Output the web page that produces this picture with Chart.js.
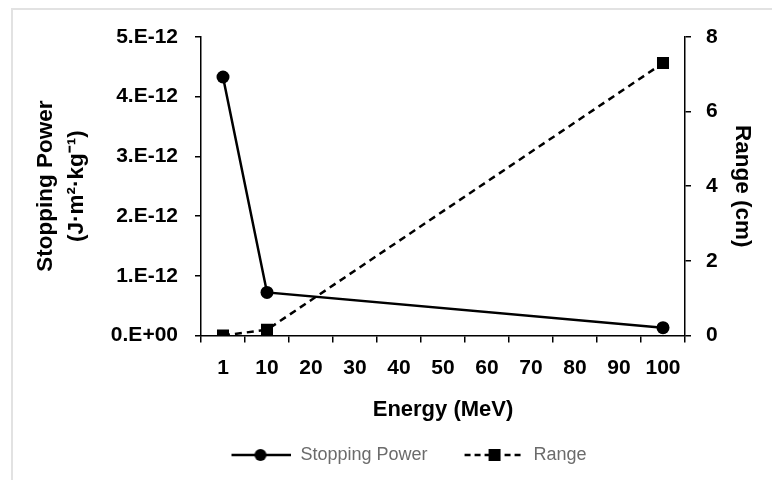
<!DOCTYPE html>
<html>
<head>
<meta charset="utf-8">
<script src="https://cdn.jsdelivr.net/npm/chart.js@4.4.1/dist/chart.umd.min.js"></script>
<style>
  html, body { margin: 0; padding: 0; background: #fff; }
  #wrap { position: relative; width: 772px; height: 480px; overflow: hidden; }
  /* outer chart frame, only top and left edges fall inside the page */
  #frame { position: absolute; left: 11px; top: 8px; width: 900px; height: 600px;
           border: 2px solid #e2e2e2; box-sizing: border-box; }
  #chart { position: absolute; left: 0; top: 0; }
</style>
</head>
<body>
<div id="wrap">
  <div id="frame"></div>
  <canvas id="chart" width="772" height="480"></canvas>
</div>
<script>
// energy categories (MeV)
const energyLabels = ['1', '10', '20', '30', '40', '50', '60', '70', '80', '90', '100'];
// stopping power, J·m²·kg⁻¹ (only 1, 10 and 100 MeV measured)
const stoppingPower = [4.33e-12, 0.72e-12, null, null, null, null, null, null, null, null, 0.13e-12];
// range, cm
const rangeCm = [0, 0.15, null, null, null, null, null, null, null, null, 7.3];

const leftTicks = { min: 0, max: 5e-12, step: 1e-12 };
const rightTicks = { min: 0, max: 8, step: 2 };

const FONT = "'Liberation Sans', Arial, sans-serif";

// Excel style "0.E+00" number format
function sciFormat(v) {
    if (Math.abs(v) < 1e-30) return '0.E+00';
    const e = Math.floor(Math.log10(Math.abs(v)) + 1e-6);
    const m = Math.round(v / Math.pow(10, e));
    const sign = e < 0 ? '-' : '+';
    return m + '.E' + sign + String(Math.abs(e)).padStart(2, '0');
}

// legend symbol: line segment with a marker in the middle
function legendSymbol(marker, dashed) {
    const c = document.createElement('canvas');
    const lead = 27, w = 60;
    c.width = lead + w;
    c.height = 16;
    const g = c.getContext('2d');
    g.strokeStyle = '#000';
    g.fillStyle = '#000';
    g.lineWidth = 2.5;
    if (dashed) g.setLineDash([6, 4]);
    g.beginPath();
    g.moveTo(lead, 8);
    g.lineTo(lead + w, 8);
    g.stroke();
    const cx = lead + w / 2;
    if (marker === 'circle') {
        g.beginPath();
        g.arc(cx - 1, 8, 6, 0, Math.PI * 2);
        g.fill();
    } else {
        g.fillRect(cx - 6, 2, 12, 12);
    }
    return c;
}

const symbols = [legendSymbol('circle', false), legendSymbol('square', true)];

const ctx = document.getElementById('chart').getContext('2d');
new Chart(ctx, {
    type: 'line',
    data: {
        labels: energyLabels,
        datasets: [
            {
                label: 'Stopping Power',
                data: stoppingPower,
                yAxisID: 'y',
                borderColor: '#000',
                backgroundColor: '#000',
                borderWidth: 2.5,
                pointStyle: 'circle',
                pointRadius: 6.5,
                pointBorderWidth: 0,
                spanGaps: true,
                tension: 0
            },
            {
                label: 'Range',
                data: rangeCm,
                yAxisID: 'y1',
                borderColor: '#000',
                backgroundColor: '#000',
                borderWidth: 2.5,
                borderDash: [7, 5],
                pointStyle: 'rect',
                pointRadius: 8.5,
                pointBorderWidth: 0,
                spanGaps: true,
                tension: 0
            }
        ]
    },
    options: {
        responsive: false,
        animation: false,
        layout: { padding: { left: 19, right: 0, top: 37, bottom: 6 } },
        plugins: {
            tooltip: { enabled: false },
            legend: {
                position: 'bottom',
                labels: {
                    usePointStyle: true,
                    pointStyleWidth: 87,
                    padding: 10,
                    color: '#6b6b6b',
                    font: { family: FONT, size: 18 },
                    generateLabels: (chart) => chart.data.datasets.map((ds, i) => ({
                        text: ds.label,
                        pointStyle: symbols[i],
                        fillStyle: '#000',
                        strokeStyle: '#000',
                        lineWidth: 0,
                        fontColor: '#6b6b6b',
                        datasetIndex: i
                    }))
                }
            }
        },
        scales: {
            x: {
                type: 'category',
                offset: true,
                border: { display: true, color: '#000', width: 1.5 },
                grid: { offset: true, drawOnChartArea: false, drawTicks: true, tickLength: 7, color: '#000', lineWidth: 1.5 },
                ticks: { color: '#000', padding: 13, maxRotation: 0, autoSkip: false,
                         font: { family: FONT, size: 21, weight: 'bold' } },
                title: { display: true, text: 'Energy (MeV)', color: '#000',
                         padding: { top: 3, bottom: 13 },
                         font: { family: FONT, size: 22, weight: 'bold' } }
            },
            y: {
                position: 'left',
                min: leftTicks.min,
                max: leftTicks.max,
                afterFit: (s) => { s.width = 182; },
                border: { display: true, color: '#000', width: 1.5 },
                grid: { drawOnChartArea: false, drawTicks: true, tickLength: 6, color: '#000', lineWidth: 1.5 },
                ticks: { stepSize: leftTicks.step, color: '#000', padding: 17,
                         callback: (v) => sciFormat(v),
                         font: { family: FONT, size: 21, weight: 'bold' } },
                title: { display: true, text: ['Stopping Power', '(J\u00b7m\u00b2\u00b7kg\u207b\u00b9)'], color: '#000',
                         padding: { top: 11, bottom: 0 },
                         font: { family: FONT, size: 22.5, weight: 'bold', lineHeight: '31px' } }
            },
            y1: {
                position: 'right',
                min: rightTicks.min,
                max: rightTicks.max,
                afterFit: (s) => { s.width = 87; },
                border: { display: true, color: '#000', width: 1.5 },
                grid: { drawOnChartArea: false, drawTicks: true, tickLength: 6, color: '#000', lineWidth: 1.5 },
                ticks: { stepSize: rightTicks.step, color: '#000', padding: 15,
                         font: { family: FONT, size: 21, weight: 'bold' } },
                title: { display: true, text: 'Range (cm)', color: '#000',
                         padding: { top: 16, bottom: 0 },
                         font: { family: FONT, size: 22.5, weight: 'bold' } }
            }
        }
    }
});
</script>
</body>
</html>
